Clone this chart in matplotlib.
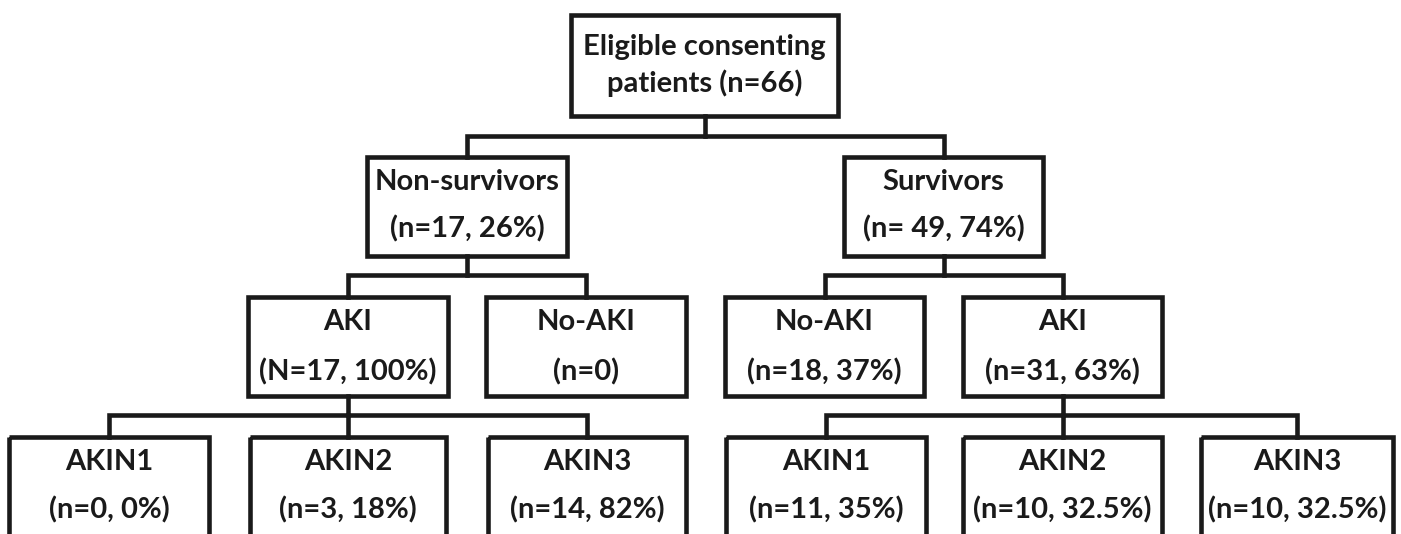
import matplotlib
matplotlib.use("Agg")
import matplotlib.pyplot as plt
from matplotlib.patches import Rectangle

# ---- data ----
root_label = ["Eligible consenting", "patients (n=66)"]
level2_labels = [["Non-survivors", "(n=17, 26%)"], ["Survivors", "(n= 49, 74%)"]]
level3_labels = [["AKI", "(N=17, 100%)"], ["No-AKI", "(n=0)"],
                 ["No-AKI", "(n=18, 37%)"], ["AKI", "(n=31, 63%)"]]
level4_labels = [["AKIN1", "(n=0, 0%)"], ["AKIN2", "(n=3, 18%)"], ["AKIN3", "(n=14, 82%)"],
                 ["AKIN1", "(n=11, 35%)"], ["AKIN2", "(n=10, 32.5%)"], ["AKIN3", "(n=10, 32.5%)"]]

# ---- layout (pixels) ----
W, H = 1401, 534
fig = plt.figure(figsize=(W / 100, H / 100), dpi=100)
ax = fig.add_axes([0, 0, 1, 1])
ax.set_xlim(0, W)
ax.set_ylim(H, 0)
ax.axis("off")

LW = 3.3
COL = "#1a1a1a"
FONT = "Lato"
FS = 21

def box(x0, x1, y0, y1, lines, ly):
    ax.add_patch(Rectangle((x0, y0), x1 - x0, y1 - y0, fill=False, lw=LW,
                           edgecolor=COL, joinstyle="miter", clip_on=True))
    cx = (x0 + x1) / 2
    for t, y in zip(lines, ly):
        ax.text(cx, y, t, ha="center", va="center", fontsize=FS,
                fontweight="bold", family=FONT, color=COL)
    return cx

def line(xs, ys):
    ax.plot(xs, ys, color=COL, lw=LW, solid_capstyle="projecting",
            solid_joinstyle="miter")

# root
rc = box(571, 838, 15, 116, root_label, [47, 83])
# level 2
l2x = [(367, 567), (844, 1043)]
l2c = [box(a, b, 157, 256, lab, [182, 229]) for (a, b), lab in zip(l2x, level2_labels)]
line([rc, rc], [116, 136])
line([l2c[0], l2c[0], l2c[1], l2c[1]], [157, 136, 136, 157])

# level 3
l3x = [(248, 448), (486, 686), (725, 924), (963, 1162)]
l3c = [box(a, b, 297, 396, lab, [322, 372]) for (a, b), lab in zip(l3x, level3_labels)]
for i, p in enumerate(l2c):
    a, b = l3c[2 * i], l3c[2 * i + 1]
    line([p, p], [256, 275])
    line([a, a, b, b], [297, 275, 275, 297])

# level 4
l4x = [(9, 209), (250, 446), (488, 686), (726, 926), (963, 1162), (1201, 1393)]
l4c = [box(a, b, 437, 570, lab, [462, 510]) for (a, b), lab in zip(l4x, level4_labels)]
for parent, kids in [(l3c[0], l4c[0:3]), (l3c[3], l4c[3:6])]:
    line([parent, parent], [396, 415])
    line([kids[0], kids[0], kids[-1], kids[-1]], [437, 415, 415, 437])
    line([kids[1], kids[1]], [415, 437])

fig.savefig("out.png", dpi=100)
